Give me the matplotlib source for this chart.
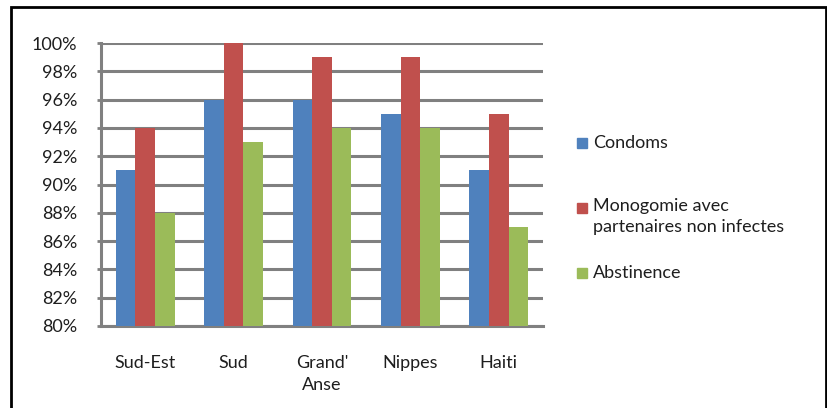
import numpy as np
import matplotlib
matplotlib.use("Agg")
import matplotlib.pyplot as plt
from matplotlib.patches import Rectangle
from matplotlib.ticker import FuncFormatter

regions = ["Sud-Est", "Sud", "Grand'\nAnse", "Nippes", "Haiti"]
condoms = [91, 96, 96, 95, 91]
monogamie = [94, 100, 99, 99, 95]
abstinence = [88, 93, 94, 94, 87]
series_names = ["Condoms", "Monogomie avec\npartenaires non infectes", "Abstinence"]
colors = ["#4F81BD", "#C0504D", "#9BBB59"]

plt.rcParams['font.family'] = ['Lato', 'DejaVu Sans']
fs = 13

fig = plt.figure(figsize=(8.27, 4.08), dpi=100)
ax = fig.add_axes([101/827, 1 - 326/408, 442/827, 283/408])

x = np.arange(len(regions))
w = 1 / 4.5
for i, vals in enumerate([condoms, monogamie, abstinence]):
    ax.bar(x + (i - 1) * w, np.array(vals) - 80, bottom=80, width=w,
           color=colors[i], zorder=3)

ax.set_xlim(-0.5, len(regions) - 0.5)
ax.set_ylim(80, 100)
ax.set_yticks(np.arange(80, 101, 2))
ax.yaxis.set_major_formatter(FuncFormatter(lambda v, p: f"{v:.0f}%"))
ax.grid(axis='y', color='#808080', linewidth=2.2, zorder=0)
ax.set_xticks(x)
ax.set_xticklabels(regions, fontsize=fs, color='#1e1e1e', linespacing=1.45)
ax.tick_params(axis='x', length=0, pad=21)
ax.tick_params(axis='y', length=3, width=2, color='#808080', labelsize=fs,
               labelcolor='#1e1e1e', pad=14)
for s in ['top', 'right']:
    ax.spines[s].set_visible(False)
for s in ['left', 'bottom']:
    ax.spines[s].set_color('#808080')
    ax.spines[s].set_linewidth(2.2)

# legend
leg_y = [143, 208, 273]
for name, c, yy in zip(series_names, colors, leg_y):
    fig.patches.append(Rectangle((577/827, 1 - (yy + 5)/408), 10/827, 10/408,
                                 transform=fig.transFigure, color=c))
    if '\n' in name:
        fig.text(593/827, 1 - (yy - 10)/408, name, fontsize=fs, color='#1e1e1e',
                 va='top', linespacing=1.4)
    else:
        fig.text(593/827, 1 - yy/408, name, fontsize=fs, color='#1e1e1e',
                 va='center')

# outer frame
fig.patches.append(Rectangle((11/827, -0.05), 815/827, 1.05 - 7/408,
                             transform=fig.transFigure, fill=False,
                             edgecolor='black', linewidth=2))

fig.savefig("out.png", dpi=100)
